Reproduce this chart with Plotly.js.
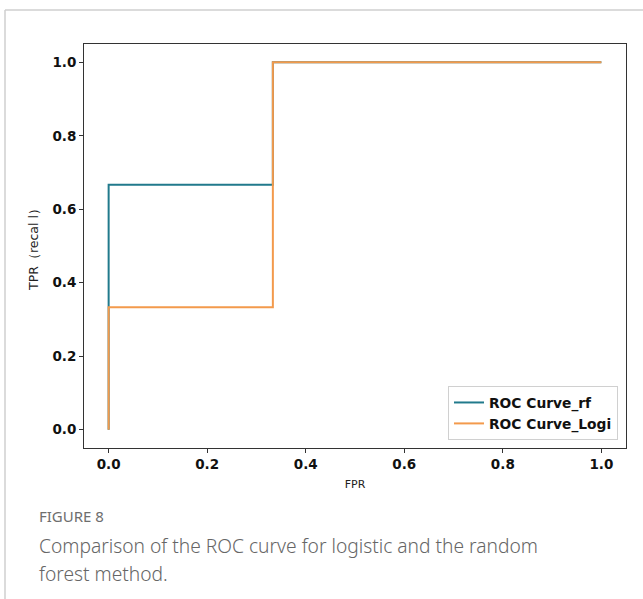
<!DOCTYPE html>
<html>
<head>
<meta charset="utf-8">
<script src="https://cdn.plot.ly/plotly-3.0.1.min.js"></script>
<style>
html,body{margin:0;padding:0;background:#fff;}
#chart{width:643px;height:599px;}
</style>
</head>
<body>
<div id="chart"></div>
<script>
// ROC data
const fprRf = [0, 0, 0, 0.3333, 0.3333, 1];
const tprRf = [0, 0.3333, 0.6667, 0.6667, 1, 1];
const fprLogi = [0, 0, 0.3333, 0.3333, 1];
const tprLogi = [0, 0.3333, 0.3333, 1, 1];
const seriesNames = ["ROC Curve_rf", "ROC Curve_Logi"];
const tickVals = [0, 0.2, 0.4, 0.6, 0.8, 1.0];
const tickText = ["0.0", "0.2", "0.4", "0.6", "0.8", "1.0"];

const W = 643, H = 599;
const L = 84, R = 626, T = 44, B = 448;
const px = x => (x - L) / (R - L);
const py = y => (B - y) / (B - T);

const traces = [
  {x: fprRf, y: tprRf, mode: 'lines', name: seriesNames[0],
   line: {color: '#217a8c', width: 2}},
  {x: fprLogi, y: tprLogi, mode: 'lines', name: seriesNames[1],
   line: {color: '#f39a4c', width: 2}}
];

const tickFont = {family: 'DejaVu Sans', size: 13.5, color: '#111', weight: 'bold'};

const layout = {
  width: W, height: H,
  margin: {l: L, r: W - R, t: T, b: H - B, pad: 0},
  paper_bgcolor: '#fff', plot_bgcolor: '#fff',
  showlegend: true,
  legend: {
    x: px(618), y: py(440), xanchor: 'right', yanchor: 'bottom',
    bgcolor: '#fff', bordercolor: '#d0d0d0', borderwidth: 1,
    font: {family: 'DejaVu Sans', size: 13.8, color: '#111', weight: 'bold'},
    tracegroupgap: 0
  },
  xaxis: {
    range: [-0.05, 1.05], tickvals: tickVals, ticktext: tickText,
    showgrid: false, zeroline: false,
    showline: true, linecolor: '#333', linewidth: 1, mirror: true,
    ticks: 'outside', ticklen: 4, tickcolor: '#333',
    tickfont: tickFont,
    title: {text: 'FPR', font: {family: 'DejaVu Sans', size: 11, color: '#222'}, standoff: 9}
  },
  yaxis: {
    range: [-0.05, 1.05], tickvals: tickVals, ticktext: tickText,
    showgrid: false, zeroline: false,
    showline: true, linecolor: '#333', linewidth: 1, mirror: true,
    ticks: 'outside', ticklen: 4, tickcolor: '#333',
    tickfont: tickFont,
    title: {text: 'TPR（recal l）', font: {family: 'DejaVu Sans', size: 12.5, color: '#222'}, standoff: 11}
  },
  shapes: [
    {type: 'line', xref: 'paper', yref: 'paper',
     x0: px(5), x1: px(643), y0: py(10), y1: py(10),
     line: {color: '#cfcfcf', width: 1.5}},
    {type: 'line', xref: 'paper', yref: 'paper',
     x0: px(5), x1: px(5), y0: py(10), y1: py(599),
     line: {color: '#cfcfcf', width: 1.5}}
  ],
  annotations: [
    {text: 'FIGURE 8', xref: 'paper', yref: 'paper', x: px(37), y: py(516),
     xanchor: 'left', yanchor: 'middle', showarrow: false,
     font: {family: 'Noto Sans', size: 15, color: '#6e6e6e'}},
    {text: 'Comparison of the ROC curve for logistic and the random', xref: 'paper', yref: 'paper',
     x: px(37), y: py(545), xanchor: 'left', yanchor: 'middle', showarrow: false,
     font: {family: 'Noto Sans', size: 19.2, color: '#666', weight: 300}},
    {text: 'forest method.', xref: 'paper', yref: 'paper',
     x: px(37), y: py(573), xanchor: 'left', yanchor: 'middle', showarrow: false,
     font: {family: 'Noto Sans', size: 19.2, color: '#666', weight: 300}}
  ]
};

Plotly.newPlot('chart', traces, layout, {staticPlot: true, displayModeBar: false});
</script>
</body>
</html>
